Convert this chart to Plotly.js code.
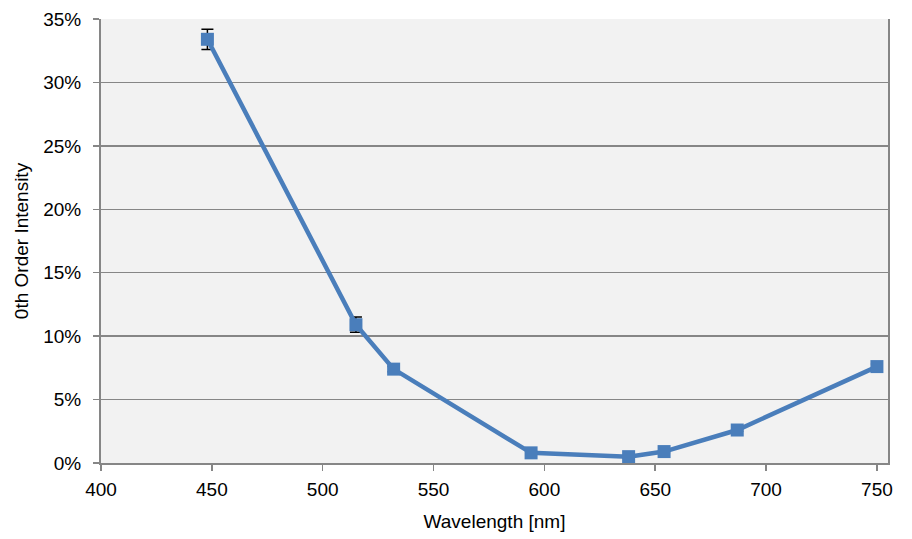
<!DOCTYPE html>
<html>
<head>
<meta charset="utf-8">
<script src="https://cdn.plot.ly/plotly-3.0.1.min.js"></script>
<style>html,body{margin:0;padding:0;background:#fff;}#chart{width:912px;height:539px;}</style>
</head>
<body>
<div id="chart"></div>
<script>
var wavelengths = [448, 515, 532, 594, 638, 654, 687, 750];
var intensity = [0.334, 0.109, 0.074, 0.008, 0.005, 0.009, 0.026, 0.076];
var errors = [0.008, 0.006, 0.002, 0.001, 0.001, 0.001, 0.001, 0.002];
var yTicks = [0, 0.05, 0.10, 0.15, 0.20, 0.25, 0.30, 0.35];
var yTickLabels = ['0%', '5%', '10%', '15%', '20%', '25%', '30%', '35%'];
var xTicks = [400, 450, 500, 550, 600, 650, 700, 750];

var trace = {
  x: wavelengths, y: intensity, type: 'scatter', mode: 'lines+markers',
  line: {color: '#4A7EBB', width: 4.5},
  marker: {symbol: 'square', size: 13, color: '#4A7EBB'},
  error_y: {type: 'data', array: errors, visible: true, color: '#000', thickness: 1.5, width: 6},
  showlegend: false, hoverinfo: 'none'
};
var axisFont = {family: 'Liberation Sans, Arial, sans-serif', size: 19, color: '#000'};
var layout = {
  width: 912, height: 539,
  margin: {l: 101, r: 24, t: 19, b: 76},
  paper_bgcolor: '#fff', plot_bgcolor: '#F2F2F2',
  font: axisFont,
  xaxis: {
    range: [400, 755], tickvals: xTicks, ticktext: xTicks.map(String),
    showgrid: false, zeroline: false, showline: true, linecolor: '#868686', linewidth: 2,
    ticks: 'outside', ticklen: 6, tickcolor: '#868686', tickwidth: 1.5,
    tickfont: axisFont, ticklabelstandoff: 2,
    title: {text: 'Wavelength [nm]', font: axisFont, standoff: 16}
  },
  yaxis: {
    range: [0, 0.35], tickvals: yTicks, ticktext: yTickLabels,
    showgrid: true, gridcolor: '#868686', gridwidth: 1.5, zeroline: false,
    showline: true, linecolor: '#868686', linewidth: 2, mirror: true,
    ticks: 'outside', ticklen: 6, tickcolor: '#868686', tickwidth: 1.5,
    tickfont: axisFont, ticklabelstandoff: 8,
    title: {text: '0th Order Intensity', font: axisFont, standoff: 10}
  }
};
Plotly.newPlot('chart', [trace], layout, {staticPlot: true, displayModeBar: false});
</script>
</body>
</html>
